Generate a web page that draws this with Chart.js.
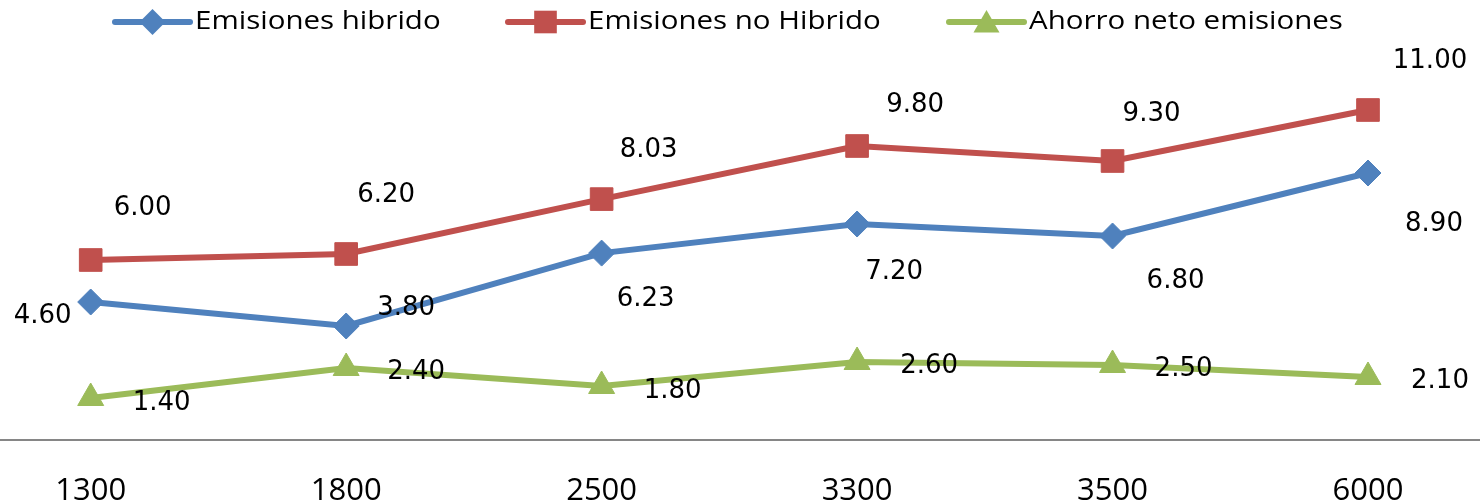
<!DOCTYPE html>
<html>
<head>
<meta charset="utf-8">
<script src="https://cdn.jsdelivr.net/npm/chart.js@4/dist/chart.umd.min.js"></script>
<style>
  html, body { margin: 0; padding: 0; background: #fff; }
  #wrap { width: 1480px; height: 503px; position: relative; }
</style>
</head>
<body>
<div id="wrap"><canvas id="c"></canvas></div>
<script>
// ---- data ----
const categories = ['1300', '1800', '2500', '3300', '3500', '6000'];
const seriesNames = ['Emisiones hibrido', 'Emisiones no Hibrido', 'Ahorro neto emisiones'];
const hibrido = [4.60, 3.80, 6.23, 7.20, 6.80, 8.90];
const noHibrido = [6.00, 6.20, 8.03, 9.80, 9.30, 11.00];
const ahorro = [1.40, 2.40, 1.80, 2.60, 2.50, 2.10];

// ---- styles ----
const colors = ['#4F81BD', '#C0504D', '#9BBB59'];
const pointStyles = ['rectRot', 'rect', 'triangle'];
const pointRadii = [13, 16, 15];
// data-label offsets (dx, dy) from each point, per series
const labelOffsets = [
  [[-48, 14], [60, -18], [44, 46], [37, 48], [63, 45], [66, 51]],
  [[52, -52], [40, -59], [47, -49], [58, -41], [39, -47], [62, -49]],
  [[71, 5], [70, 4], [71, 5], [72, 4], [71, 4], [72, 4]]
];
const legendStarts = [115, 508, 949];
const legendTextStretch = 1.18;

const seriesData = [hibrido, noHibrido, ahorro];

const datasets = seriesData.map((d, i) => ({
  label: seriesNames[i],
  data: d,
  borderColor: colors[i],
  backgroundColor: colors[i],
  borderWidth: 6,
  pointStyle: pointStyles[i],
  pointRadius: pointRadii[i],
  pointHoverRadius: pointRadii[i],
  pointBackgroundColor: colors[i],
  pointBorderColor: colors[i],
  pointBorderWidth: 1,
  tension: 0,
  clip: false
}));

const axisLinePlugin = {
  id: 'axisLine',
  beforeDatasetsDraw(chart) {
    const ctx = chart.ctx;
    const y = chart.scales.y.getPixelForValue(0);
    ctx.save();
    ctx.strokeStyle = '#868686';
    ctx.lineWidth = 2;
    ctx.beginPath();
    ctx.moveTo(0, y);
    ctx.lineTo(chart.width, y);
    ctx.stroke();
    ctx.restore();
  }
};

const dataLabelPlugin = {
  id: 'dataLabels',
  afterDatasetsDraw(chart) {
    const ctx = chart.ctx;
    ctx.save();
    ctx.font = '26px "DejaVu Sans"';
    ctx.fillStyle = '#000';
    ctx.textAlign = 'center';
    ctx.textBaseline = 'middle';
    chart.data.datasets.forEach((ds, i) => {
      const meta = chart.getDatasetMeta(i);
      meta.data.forEach((el, j) => {
        const off = labelOffsets[i][j];
        ctx.fillText(Number(ds.data[j]).toFixed(2), el.x + off[0], el.y + off[1]);
      });
    });
    ctx.restore();
  }
};

function drawMarker(ctx, style, x, y, r, color) {
  ctx.fillStyle = color;
  ctx.beginPath();
  if (style === 'rectRot') {
    ctx.moveTo(x, y - r); ctx.lineTo(x + r, y); ctx.lineTo(x, y + r); ctx.lineTo(x - r, y);
  } else if (style === 'rect') {
    const s = r * Math.SQRT1_2;
    ctx.rect(x - s, y - s, 2 * s, 2 * s);
  } else {
    const a = -Math.PI / 2;
    for (let k = 0; k < 3; k++) {
      const ang = a + k * 2 * Math.PI / 3;
      const px = x + Math.cos(ang) * r, py = y + Math.sin(ang) * r;
      if (k === 0) ctx.moveTo(px, py); else ctx.lineTo(px, py);
    }
  }
  ctx.closePath();
  ctx.fill();
}

const legendPlugin = {
  id: 'customLegend',
  afterDraw(chart) {
    const ctx = chart.ctx;
    const yc = 22;
    const lineLen = 75;
    ctx.save();
    chart.data.datasets.forEach((ds, i) => {
      const x0 = legendStarts[i];
      ctx.strokeStyle = colors[i];
      ctx.lineWidth = 6;
      ctx.lineCap = 'round';
      ctx.beginPath();
      ctx.moveTo(x0, yc);
      ctx.lineTo(x0 + lineLen, yc);
      ctx.stroke();
      drawMarker(ctx, pointStyles[i], x0 + lineLen / 2, yc + (pointStyles[i] === 'triangle' ? 3 : 0), pointRadii[i], colors[i]);
      ctx.save();
      ctx.translate(x0 + lineLen + 5, yc);
      ctx.scale(legendTextStretch, 1);
      ctx.font = '25px "Open Sans"';
      ctx.fillStyle = '#000';
      ctx.textAlign = 'left';
      ctx.textBaseline = 'middle';
      ctx.fillText(ds.label, 0, 0);
      ctx.restore();
    });
    ctx.restore();
  }
};

new Chart(document.getElementById('c'), {
  type: 'line',
  data: { labels: categories, datasets },
  options: {
    responsive: true,
    maintainAspectRatio: false,
    devicePixelRatio: 1,
    animation: false,
    layout: { padding: { left: 90.7, right: 112, top: 80, bottom: 0 } },
    plugins: {
      legend: { display: false },
      tooltip: { enabled: false },
      title: { display: false }
    },
    scales: {
      y: { display: false, min: 0, max: 12 },
      x: {
        offset: false,
        grid: { display: false, drawTicks: false },
        border: { display: false },
        ticks: {
          color: '#000',
          font: { family: '"Open Sans"', size: 31 },
          padding: 33,
          maxRotation: 0,
          autoSkip: false
        },
        afterFit(scale) { scale.height = 63; }
      }
    }
  },
  plugins: [axisLinePlugin, dataLabelPlugin, legendPlugin]
});
</script>
</body>
</html>
